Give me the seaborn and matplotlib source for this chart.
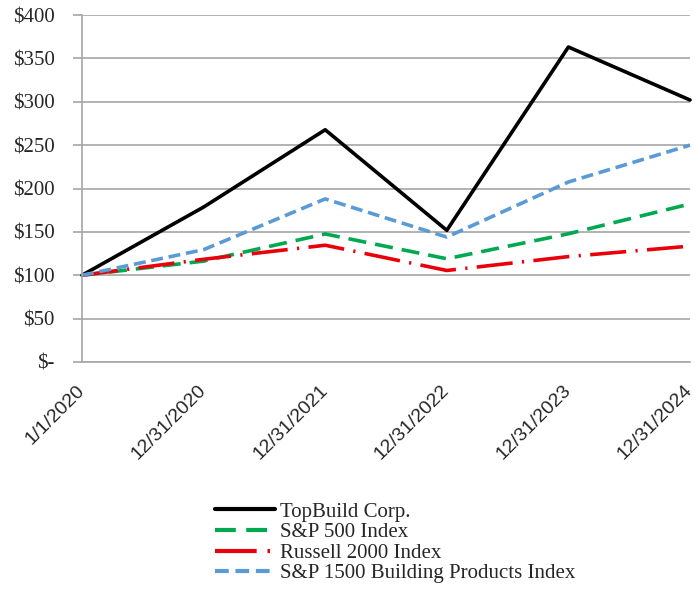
import seaborn as sns
import matplotlib.pyplot as plt
import pandas as pd

dates = ["1/1/2020", "12/31/2020", "12/31/2021", "12/31/2022", "12/31/2023", "12/31/2024"]
topbuild = [100, 178.6, 267.7, 151.8, 363.1, 302.0]
sp500 = [100, 116.3, 147.6, 119.0, 147.8, 182.2]
russell2000 = [100, 118.4, 134.6, 105.5, 121.5, 133.6]
sp1500_building = [100, 129.5, 188.0, 144.0, 207.5, 250.0]

series_names = ["TopBuild Corp.", "S&P 500 Index", "Russell 2000 Index",
                "S&P 1500 Building Products Index"]
ytick_values = [0, 50, 100, 150, 200, 250, 300, 350, 400]
ytick_labels = ["$-", "$50", "$100", "$150", "$200", "$250", "$300", "$350", "$400"]

df = pd.DataFrame({
    "date": dates * 4,
    "value": topbuild + sp500 + russell2000 + sp1500_building,
    "series": [s for s in series_names for _ in dates],
})

sns.set_style("white")
fig = plt.figure(figsize=(6.97, 5.95), dpi=100)
ax = fig.add_axes([82 / 697, 1 - 362 / 595, 608 / 697, 347 / 595])

palette = {
    "TopBuild Corp.": "#000000",
    "S&P 500 Index": "#00A84F",
    "Russell 2000 Index": "#E8000B",
    "S&P 1500 Building Products Index": "#5B9BD5",
}
dashes = {
    "TopBuild Corp.": "",
    "S&P 500 Index": (5.0, 2.5),
    "Russell 2000 Index": (10, 2.6, 0.6, 2.6),
    "S&P 1500 Building Products Index": (3.3, 1.6),
}

sns.lineplot(data=df, x="date", y="value", hue="series", style="series",
             palette=palette, dashes=dashes, linewidth=2.6, sort=False, ax=ax)
for line in ax.lines:
    line.set_clip_on(False)

ax.set_xlim(0, len(dates) - 1)
ax.set_ylim(0, 400)
ax.set_yticks(ytick_values)
ax.set_yticklabels([l.replace("$", r"\$") for l in ytick_labels],
                   fontfamily="Liberation Serif", fontsize=15)
ax.set_xticks(range(len(dates)))
ax.set_xticklabels(dates, rotation=45, ha="right", va="center",
                   rotation_mode="anchor",
                   fontfamily="Liberation Sans", fontsize=14)
ax.set_xlabel("")
ax.set_ylabel("")

ax.grid(axis="y", color="#A6A6A6", linewidth=1.2)
ax.set_axisbelow(True)
for side in ["top", "right"]:
    ax.spines[side].set_visible(False)
for side in ["left", "bottom"]:
    ax.spines[side].set_color("#A6A6A6")
    ax.spines[side].set_linewidth(1.2)
ax.tick_params(axis="y", left=True, length=6.5, color="#A6A6A6", width=1.2, pad=13)
ax.tick_params(axis="x", bottom=False, pad=15)

handles, labels = ax.get_legend_handles_labels()
for h in handles:
    h.set_linewidth(3.0)
ax.get_legend().remove()
fig.legend(handles, labels, loc="upper left",
           bbox_to_anchor=(215 / 697, 1 - 502 / 595),
           frameon=False, handlelength=2.9, handletextpad=0.2,
           labelspacing=0.05, borderpad=0, borderaxespad=0,
           prop={"family": "Liberation Serif", "size": 15})

fig.savefig("out.png", dpi=100)
